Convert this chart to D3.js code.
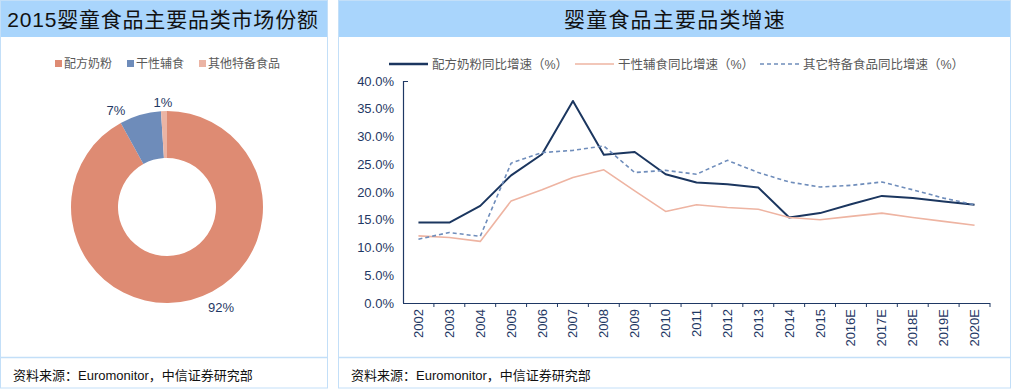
<!DOCTYPE html>
<html><head><meta charset="utf-8">
<script src="https://cdn.jsdelivr.net/npm/d3@7"></script>
<style>
body{margin:0;background:#fff;}
svg{display:block;font-family:"Liberation Sans",Arial,sans-serif;}
</style></head>
<body><svg id="c" width="1012" height="390"></svg>
<script>
// ---- data ----
const pieCategories = ["配方奶粉","干性辅食","其他特备食品"];
const pieValues = [92, 7, 1];
const pieColors = ["#DE8B73","#6E8CBA","#EBB4A4"];

const years = ["2002","2003","2004","2005","2006","2007","2008","2009","2010","2011","2012","2013","2014","2015","2016E","2017E","2018E","2019E","2020E"];
const formulaGrowth = [14.5,14.5,17.5,23.0,26.8,36.4,26.7,27.2,23.2,21.7,21.4,20.8,15.4,16.2,17.8,19.3,18.9,18.3,17.7];
const dryFoodGrowth = [12.1,11.8,11.1,18.4,20.4,22.6,24.0,20.2,16.5,17.7,17.2,16.9,15.4,15.0,15.6,16.2,15.4,14.7,14.0];
const otherGrowth  = [11.5,12.7,12.0,25.2,27.1,27.5,28.3,23.5,23.9,23.2,25.7,23.5,21.8,20.9,21.2,21.8,20.4,18.9,17.7];
const seriesNames = ["配方奶粉同比增速（%）","干性辅食同比增速（%）","其它特备食品同比增速（%）"];
const yTicks = [0,5,10,15,20,25,30,35,40];

const svg = d3.select("#c");
const border = "#C3DFF8", band = "#A9D5FC", navy = "#1F3864";
const cjkSerif = "'Liberation Sans','Noto Sans CJK SC','Noto Sans CJK JP',sans-serif";

// ---- panels ----
function panel(x0, x1, title, tx, ls) {
  svg.append("rect").attr("x", x0+0.5).attr("y", 0.5).attr("width", x1-x0-1).attr("height", 387.5)
     .attr("fill", "#fff").attr("stroke", border);
  svg.append("rect").attr("x", x0+1).attr("y", 1).attr("width", x1-x0-2).attr("height", 36).attr("fill", band);
  svg.append("line").attr("x1", x0).attr("x2", x1).attr("y1", 357.5).attr("y2", 357.5).attr("stroke", border).attr("stroke-width", 1.5);
  svg.append("text").attr("x", tx).attr("y", 27).attr("text-anchor", "middle")
     .attr("font-family", cjkSerif).attr("font-size", 21).attr("fill", "#111").attr("letter-spacing", ls).text(title);
  const s = svg.append("text").attr("x", x0+13).attr("y", 380).attr("font-size", 13).attr("fill", "#111");
  s.append("tspan").attr("font-family", cjkSerif).text("资料来源：");
  s.append("tspan").attr("font-family", "'Liberation Sans',Arial").text("Euromonitor");
  s.append("tspan").attr("font-family", cjkSerif).text("，中信证券研究部");
}
panel(0, 328, "2015婴童食品主要品类市场份额", 163, 0.8);
panel(338, 1011, "婴童食品主要品类增速", 675, 1.2);

// ---- pie legend ----
const lg = svg.append("g").attr("font-family", cjkSerif).attr("font-size", 12).attr("fill", "#595959");
const legX = [55, 127, 199];
pieCategories.forEach((c, i) => {
  lg.append("rect").attr("x", legX[i]).attr("y", 60).attr("width", 7).attr("height", 7).attr("fill", pieColors[i]);
  lg.append("text").attr("x", legX[i]+9).attr("y", 68).text(c);
});

// ---- donut ----
const cx = 167, cy = 207, rO = 96, rI = 49;
const arcs = d3.pie().sort(null)(pieValues);
const arc = d3.arc().innerRadius(rI).outerRadius(rO);
const pg = svg.append("g").attr("transform", `translate(${cx},${cy})`);
pg.selectAll("path").data(arcs).join("path").attr("d", arc).attr("fill", (d,i) => pieColors[i]);
const labelPos = [[221,312],[116,115],[163,107]];
arcs.forEach((d, i) => {
  svg.append("text").attr("x", labelPos[i][0]).attr("y", labelPos[i][1]).attr("text-anchor", "middle")
     .attr("font-size", 13).attr("fill", navy).text(pieValues[i] + "%");
});

// ---- line chart ----
const x = d3.scaleBand().domain(years).range([403, 990]);
const y = d3.scaleLinear().domain([0, 40]).range([303, 81]);
const ax = svg.append("g").attr("font-size", 13).attr("fill", navy);
yTicks.forEach(t => {
  ax.append("text").attr("x", 394).attr("y", y(t)+4.5).attr("text-anchor", "end").attr("fill", navy).text(t.toFixed(1) + "%");
});
svg.append("line").attr("x1", 403.5).attr("x2", 403.5).attr("y1", 81).attr("y2", 303).attr("stroke", navy).attr("stroke-width", 1.2);
svg.append("line").attr("x1", 403.5).attr("x2", 408).attr("y1", 81.5).attr("y2", 81.5).attr("stroke", navy).attr("stroke-width", 1);
svg.append("line").attr("x1", 403).attr("x2", 990).attr("y1", 303.5).attr("y2", 303.5).attr("stroke", navy).attr("stroke-width", 1.2);
years.forEach((yr, i) => {
  const bx = x(yr) + x.bandwidth();
  svg.append("line").attr("x1", bx).attr("x2", bx).attr("y1", 303).attr("y2", 307).attr("stroke", navy).attr("stroke-width", 1);
  const px = x(yr) + x.bandwidth()/2;
  svg.append("text").attr("transform", `translate(${px+4.5},309) rotate(-90)`).attr("text-anchor", "end")
     .attr("font-size", 13).attr("fill", navy).text(yr);
});

const line = d3.line().x((d,i) => x(years[i]) + x.bandwidth()/2).y(d => y(d));
const styles = [
  {data: formulaGrowth, color: "#1B365F", w: 2, dash: null},
  {data: dryFoodGrowth, color: "#EEB4A2", w: 1.6, dash: null},
  {data: otherGrowth, color: "#6F8DBB", w: 1.6, dash: "4,3"}
];
styles.forEach(s => {
  svg.append("path").attr("d", line(s.data)).attr("fill", "none").attr("stroke", s.color)
     .attr("stroke-width", s.w).attr("stroke-dasharray", s.dash).attr("stroke-linejoin", "round");
});

// line legend
const llx = [389, 575, 760];
const lgl = svg.append("g").attr("font-family", cjkSerif).attr("font-size", 12.5).attr("fill", "#595959");
styles.forEach((s, i) => {
  lgl.append("line").attr("x1", llx[i]).attr("x2", llx[i]+39).attr("y1", 64).attr("y2", 64)
     .attr("stroke", s.color).attr("stroke-width", s.w + (i===0?0.5:0)).attr("stroke-dasharray", s.dash);
  lgl.append("text").attr("x", llx[i]+43).attr("y", 68.5).text(seriesNames[i]);
});
</script></body></html>
